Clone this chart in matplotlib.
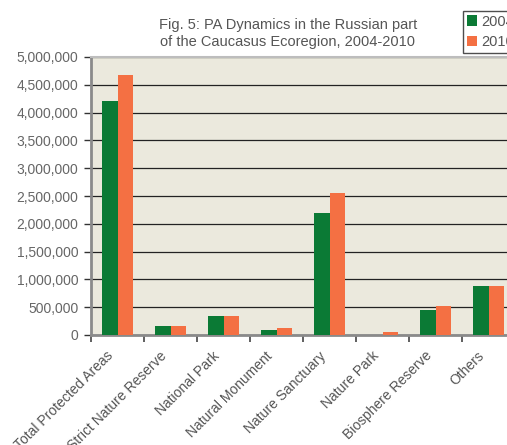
import numpy as np
import matplotlib.pyplot as plt
import matplotlib.transforms as mtransforms
from matplotlib.ticker import FuncFormatter

plt.rcParams['font.family'] = ['Liberation Sans', 'DejaVu Sans']

# Data (hectares)
categories = ["Total Protected Areas", "Strict Nature Reserve", "National Park",
              "Natural Monument", "Nature Sanctuary", "Nature Park",
              "Biosphere Reserve", "Others"]
values_2004 = [4200000, 165000, 345000, 90000, 2200000, 0, 455000, 885000]
values_2010 = [4680000, 165000, 345000, 125000, 2560000, 60000, 527000, 885000]
series_labels = ["2004", "2010"]

green = "#0b7a35"
orange = "#f47043"

fig = plt.figure(figsize=(5.07, 4.45), dpi=100)
ax = fig.add_axes([91 / 507, 110 / 445, 424 / 507, 278 / 445])
ax.set_facecolor("#ebe9dd")

x = np.arange(len(categories))
w = 0.29
b1 = ax.bar(x - w / 2, values_2004, w, color=green, zorder=3, label=series_labels[0])
b2 = ax.bar(x + w / 2, values_2010, w, color=orange, zorder=3, label=series_labels[1])

ax.set_xlim(-0.5, len(categories) - 0.5)
ax.set_ylim(0, 5000000)
ax.set_yticks(np.arange(0, 5000001, 500000))
ax.yaxis.set_major_formatter(FuncFormatter(lambda v, p: f"{int(v):,}"))
ax.yaxis.grid(True, color="#222222", linewidth=0.9, zorder=1)

ax.set_xticks(x)
ax.set_xticks(np.arange(-0.5, len(categories), 1.0), minor=True)
ax.set_xticklabels(categories, rotation=45, ha="right", va="top",
                   rotation_mode="anchor", color="#555555", fontsize=10)
ax.tick_params(axis="x", which="major", length=0, pad=10)
ax.tick_params(axis="x", which="minor", length=5, width=1.2, color="#444444", direction="out")
ax.tick_params(axis="y", length=5, width=1, color="#333333", labelcolor="#666666", labelsize=10, pad=4)

# nudge the rotated labels left a little
shift = mtransforms.ScaledTranslation(-11 / 100, 0, fig.dpi_scale_trans)
for lbl in ax.get_xticklabels():
    lbl.set_transform(lbl.get_transform() + shift)

for side in ["left", "bottom"]:
    ax.spines[side].set_color("#8a8a8a")
    ax.spines[side].set_linewidth(2)
ax.spines["top"].set_color("#bdbdbd")
ax.spines["top"].set_linewidth(1.5)
ax.spines["right"].set_visible(False)

fig.text(288 / 507, 1 - 33.5 / 445, "Fig. 5: PA Dynamics in the Russian part\nof the Caucasus Ecoregion, 2004-2010",
         ha="center", va="center", fontsize=10.5, color="#555555", linespacing=1.25)

leg = fig.legend(handles=[b1, b2], loc="upper left", bbox_to_anchor=(463 / 507, 1 - 11 / 445),
                 frameon=True, fancybox=False, edgecolor="#222222", fontsize=10.5,
                 handlelength=0.7, handleheight=0.7, handletextpad=0.3,
                 borderpad=0.25, labelspacing=0.45, borderaxespad=0)
leg.get_frame().set_linewidth(1)
for t in leg.get_texts():
    t.set_color("#555555")

fig.savefig("out.png", dpi=100)
